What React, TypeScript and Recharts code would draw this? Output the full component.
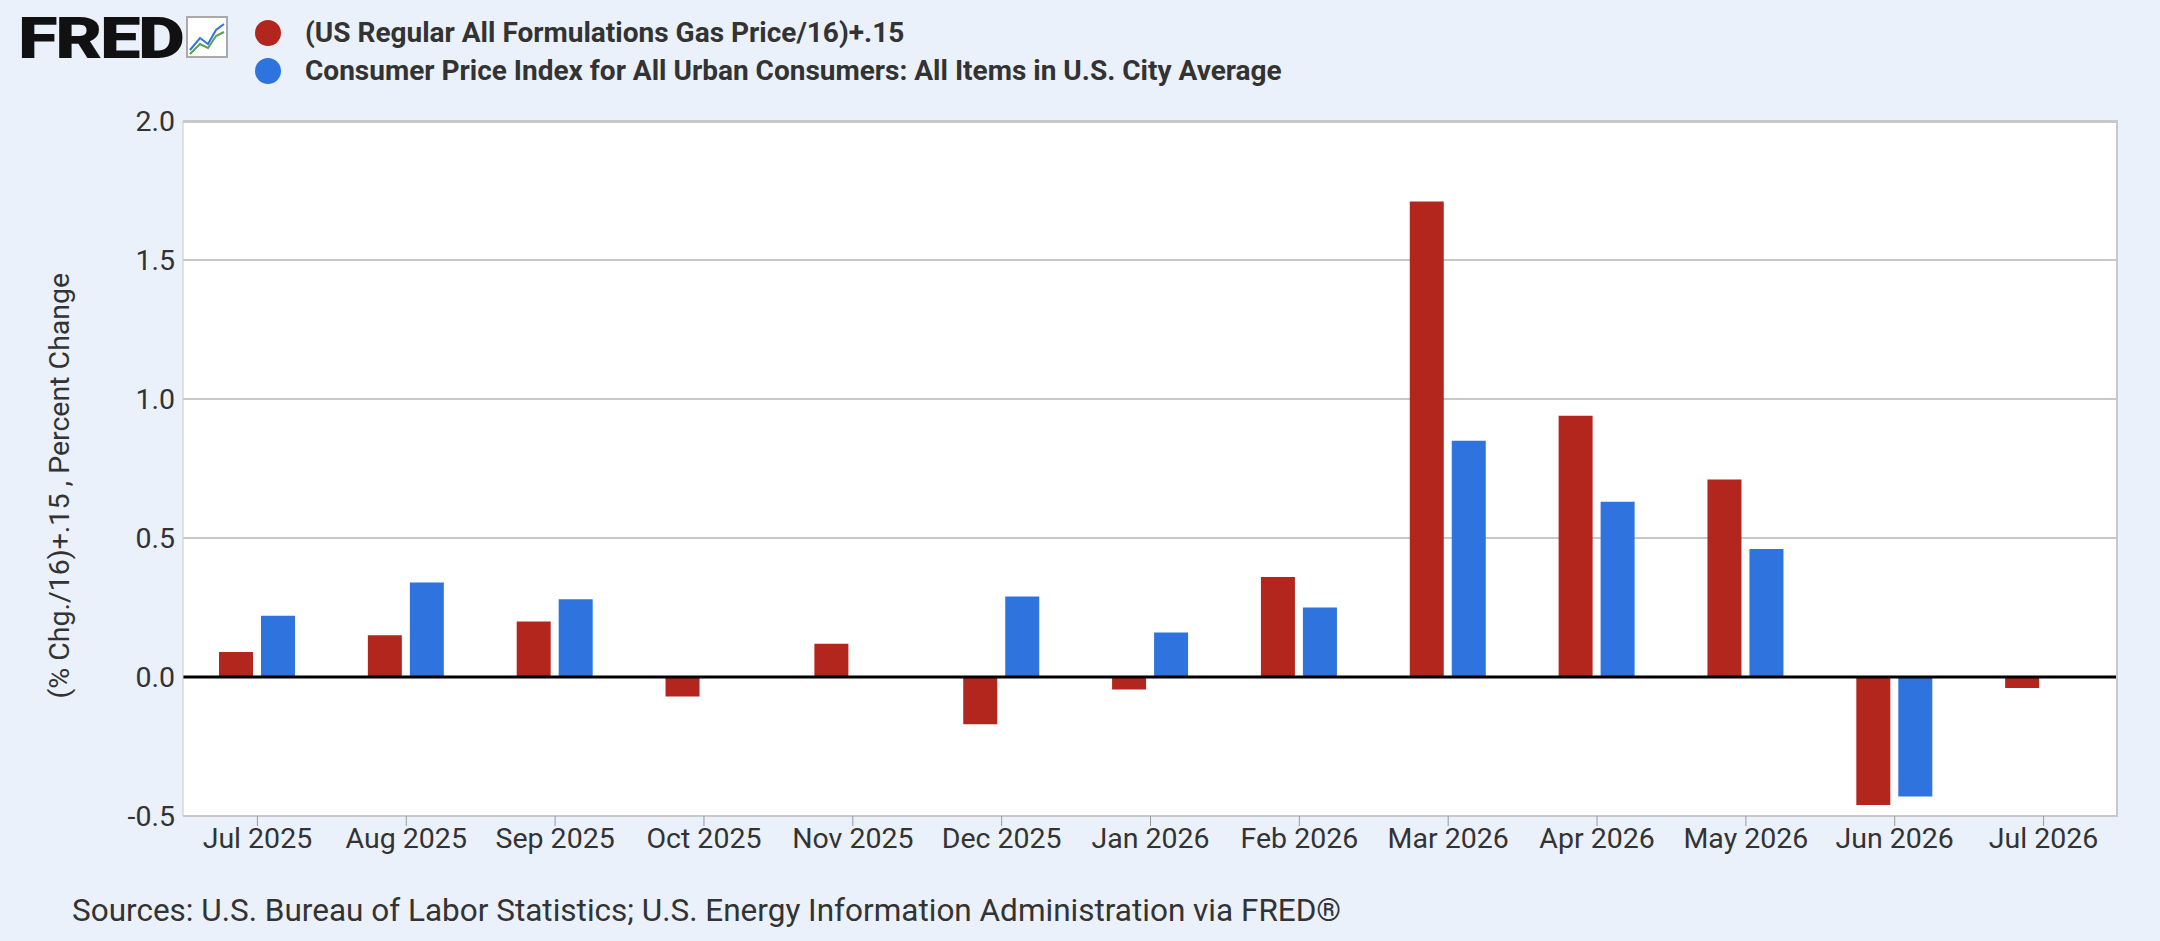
import React from "react";
import {
  BarChart,
  Bar,
  XAxis,
  YAxis,
  CartesianGrid,
  ReferenceLine,
} from "recharts";

const months = [
  "Jul 2025", "Aug 2025", "Sep 2025", "Oct 2025", "Nov 2025", "Dec 2025",
  "Jan 2026", "Feb 2026", "Mar 2026", "Apr 2026", "May 2026", "Jun 2026", "Jul 2026",
];
const gas = [0.09, 0.15, 0.2, -0.07, 0.12, -0.17, -0.045, 0.36, 1.71, 0.94, 0.71, -0.46, -0.04];
const cpi = [0.22, 0.34, 0.28, null, null, 0.29, 0.16, 0.25, 0.85, 0.63, 0.46, -0.43, null];
const yTicks = [-0.5, 0, 0.5, 1, 1.5, 2];

const data = months.map((m, i) => ({ name: m, gas: gas[i], cpi: cpi[i] }));

const RED = "#b3261e";
const BLUE = "#2f74de";
const FONT = "Roboto, 'Noto Sans', sans-serif";

const Dot = ({ color }: { color: string }) => (
  <span style={{ display: "inline-block", width: 26, height: 26, borderRadius: 13, background: color, marginRight: 24 }} />
);

export default function App() {
  return (
    <div style={{ position: "absolute", left: 0, top: 0, width: 2160, height: 941, background: "#eaf1fa", fontFamily: FONT, overflow: "hidden" }}>
      <div style={{ position: "absolute", left: 18, top: 4, fontSize: 58, fontWeight: 900, letterSpacing: -2, color: "#111", transform: "scaleX(1.25)", transformOrigin: "left" }}>
        FRED
      </div>
      <svg style={{ position: "absolute", left: 186, top: 16 }} width={42} height={42}>
        <rect x={1} y={1} width={40} height={40} fill="#fff" stroke="#aaa" strokeWidth={2} />
        <polyline points="4,34 14,22 22,28 30,14 38,8" fill="none" stroke="#2f74de" strokeWidth={2} />
        <polyline points="4,38 14,28 22,32 30,20 38,16" fill="none" stroke="#5aa050" strokeWidth={2} />
      </svg>
      <div style={{ position: "absolute", left: 255, top: 14, fontSize: 28, fontWeight: 700, color: "#333", lineHeight: "38px" }}>
        <div style={{ display: "flex", alignItems: "center" }}><Dot color={RED} />(US Regular All Formulations Gas Price/16)+.15</div>
        <div style={{ display: "flex", alignItems: "center" }}><Dot color={BLUE} />Consumer Price Index for All Urban Consumers: All Items in U.S. City Average</div>
      </div>
      <div style={{ position: "absolute", left: 0, top: 0 }}>
        <BarChart
          width={2160}
          height={941}
          data={data}
          margin={{ top: 121, right: 42, left: 113, bottom: 80 }}
          barSize={34}
          barGap={8}
        >
          <CartesianGrid vertical={false} fill="#ffffff" stroke="#c8c8c8" strokeWidth={2} />
          <XAxis
            dataKey="name"
            axisLine={{ stroke: "#c8c8c8" }}
            tickLine={{ stroke: "#999" }}
            tickSize={10}
            tick={{ fontSize: 28.5, fill: "#333", fontFamily: FONT }}
            height={45}
          />
          <YAxis
            width={70}
            domain={[-0.5, 2]}
            ticks={yTicks}
            tickFormatter={(v: number) => v.toFixed(1)}
            axisLine={{ stroke: "#c8c8c8" }}
            tickLine={false}
            tick={{ fontSize: 28.5, fill: "#333", fontFamily: FONT }}
            label={{ value: "(% Chg./16)+.15 , Percent Change", angle: -90, position: "insideLeft", offset: -54, dy: 230, style: { fontSize: 28.5, fill: "#333", fontFamily: FONT } }}
          />
          <ReferenceLine y={0} stroke="#000" strokeWidth={3} />
          <Bar dataKey="gas" fill={RED} isAnimationActive={false} />
          <Bar dataKey="cpi" fill={BLUE} isAnimationActive={false} />
        </BarChart>
      </div>
      <div style={{ position: "absolute", left: 183, top: 121, width: 1935, height: 695, borderRight: "2px solid #c8c8c8", borderTop: "2px solid #c8c8c8", boxSizing: "border-box", pointerEvents: "none" }} />
      <div style={{ position: "absolute", left: 72, top: 892, fontSize: 31.5, color: "#333" }}>
        Sources: U.S. Bureau of Labor Statistics; U.S. Energy Information Administration via FRED®
      </div>
    </div>
  );
}
